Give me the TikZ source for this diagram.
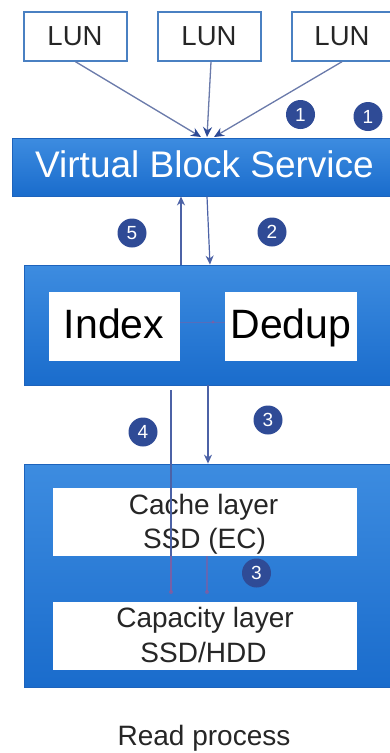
\documentclass[tikz,border=0pt]{standalone}
\usepackage{fontspec}
\setmainfont{Liberation Sans}
\usetikzlibrary{arrows.meta}

\definecolor{blueTop}{HTML}{3D8CE0}
\definecolor{blueBot}{HTML}{1A6CCC}
\definecolor{blueEdge}{HTML}{1D63BC}
\definecolor{lunEdge}{HTML}{4A80C2}
\definecolor{wire}{HTML}{6A7AAA}
\definecolor{flow}{HTML}{4C62A6}
\definecolor{badge}{HTML}{2F4B96}
\definecolor{tint}{HTML}{8A5A9C}

\tikzset{
  panel/.style={draw=blueEdge, line width=0.8pt, top color=blueTop, bottom color=blueBot, inner sep=0pt},
  whitebox/.style={fill=white, draw=none, inner sep=0pt},
  lunbox/.style={draw=lunEdge, line width=1.4pt, fill=white, inner sep=0pt,
    minimum width=103pt, minimum height=49pt},
  wirestyle/.style={draw=wire, line width=1.3pt, -{Stealth[length=10pt,width=9pt,color=badge]}},
  flowarrow/.style={draw=flow, line width=1.2pt, -{Stealth[length=9pt,width=8pt]}},
  badgenode/.style={circle, fill=badge, text=white, inner sep=0pt, minimum size=29pt,
    font=\fontsize{19}{19}\selectfont},
  lbl/.style={anchor=base, inner sep=0pt},
}

\begin{document}
\begin{tikzpicture}[x=1pt, y=-1pt]
  \useasboundingbox (0,0) rectangle (390,753);
  \clip (0,0) rectangle (390,753);

  % LUN boxes
  \node[lunbox] (lun1) at (75.5,36.5) {};
  \node[lunbox] (lun2) at (209.5,36.5) {};
  \node[lunbox] (lun3) at (343.5,36.5) {};
  \foreach \n/\x in {lun1/75, lun2/209, lun3/342}
    \node[lbl, font=\fontsize{27.5}{30}\selectfont, text=black!85] (\n t) at (\x,45) {LUN};

  % Virtual Block Service
  \node[panel, minimum width=382pt, minimum height=58pt] (vbs) at (203,167) {};
  \node[lbl, text=white, font=\fontsize{37}{40}\selectfont] (vbst) at (204.5,177) {Virtual Block Service};

  % LUN connectors meeting at the service bar
  \coordinate (in1) at (201,137);
  \coordinate (in2) at (207,137);
  \coordinate (in3) at (214,137);
  \draw[wirestyle] (lun1.south) ++(0,0) coordinate (o1) (o1) -- (in1);
  \draw[wirestyle] (lun2.south) ++(1.5,0) coordinate (o2) (o2) -- (in2);
  \draw[wirestyle] (lun3.south) ++(-1.5,0) coordinate (o3) (o3) -- (in3);

  % Index / Dedup panel
  \node[panel, minimum width=370pt, minimum height=120pt] (mid) at (209,325) {};
  \node[whitebox, minimum width=131pt, minimum height=69pt] (index) at (114.5,326.5) {};
  \node[whitebox, minimum width=132pt, minimum height=69pt] (dedup) at (291,326.5) {};
  \node[lbl, font=\fontsize{41}{44}\selectfont] (indext) at (114,338) {Index};
  \node[lbl, font=\fontsize{41}{44}\selectfont] (dedupt) at (291,338) {Dedup};
  \draw[tint, opacity=0.45, line width=0.6pt] (index.east |- 0,322) coordinate (ie) -- (dedup.west |- 0,322) coordinate (dw);
  \fill[tint, opacity=0.7] (213,322) circle (1.6pt);

  % Storage panel
  \node[panel, minimum width=370pt, minimum height=223pt] (store) at (209,575.5) {};
  \node[whitebox, minimum width=304pt, minimum height=68pt] (cache) at (205,522) {};
  \node[whitebox, minimum width=304pt, minimum height=68pt] (capa) at (205,636) {};
  \node[lbl, font=\fontsize{28}{30}\selectfont, text=black!85] (ct1) at (203.5,514) {Cache layer};
  \node[lbl, font=\fontsize{28}{30}\selectfont, text=black!85] (ct2) at (204.5,548) {SSD (EC)};
  \node[lbl, font=\fontsize{28}{30}\selectfont, text=black!85] (pt1) at (205,627) {Capacity layer};
  \node[lbl, font=\fontsize{28}{30}\selectfont, text=black!85] (pt2) at (203.5,662) {SSD/HDD};

  % Flow arrows between panels
  \draw[flowarrow] (mid.north -| 181,0) -- (vbs.south -| 181,0);
  \draw[flowarrow] (vbs.south -| 207,0) -- (mid.north -| 210,0);
  \draw[flowarrow] (mid.south -| 208,0) -- (store.north -| 208,0);
  \coordinate (r4top) at (171,390);
  \coordinate (r4bot) at (171,592);
  \draw[flow, line width=1.1pt] (r4top) -- (cache.south -| r4top);
  \draw[tint, line width=1.1pt, opacity=0.8] (cache.south -| r4top) -- (r4bot);
  \fill[tint, opacity=0.8] (r4bot) circle (2pt);
  \coordinate (r3bot) at (207,592);
  \draw[tint, line width=1.1pt, opacity=0.6] (cache.south -| r3bot) -- (r3bot);
  \fill[tint, opacity=0.7] (r3bot) circle (2pt);

  % Step badges
  \node[badgenode] (b1a) at (300.5,114.5) {1};
  \node[badgenode] (b1b) at (368,116.5) {1};
  \node[badgenode] (b5) at (132,233) {5};
  \node[badgenode] (b2) at (272,232) {2};
  \node[badgenode] (b4) at (143,432) {4};
  \node[badgenode] (b3) at (268,420) {3};
  \node[badgenode] (b3b) at (256.5,573) {3};

  % Caption
  \node[lbl, font=\fontsize{28}{30}\selectfont, text=black!85] (cap) at (204,745) {Read process};
\end{tikzpicture}
\end{document}
